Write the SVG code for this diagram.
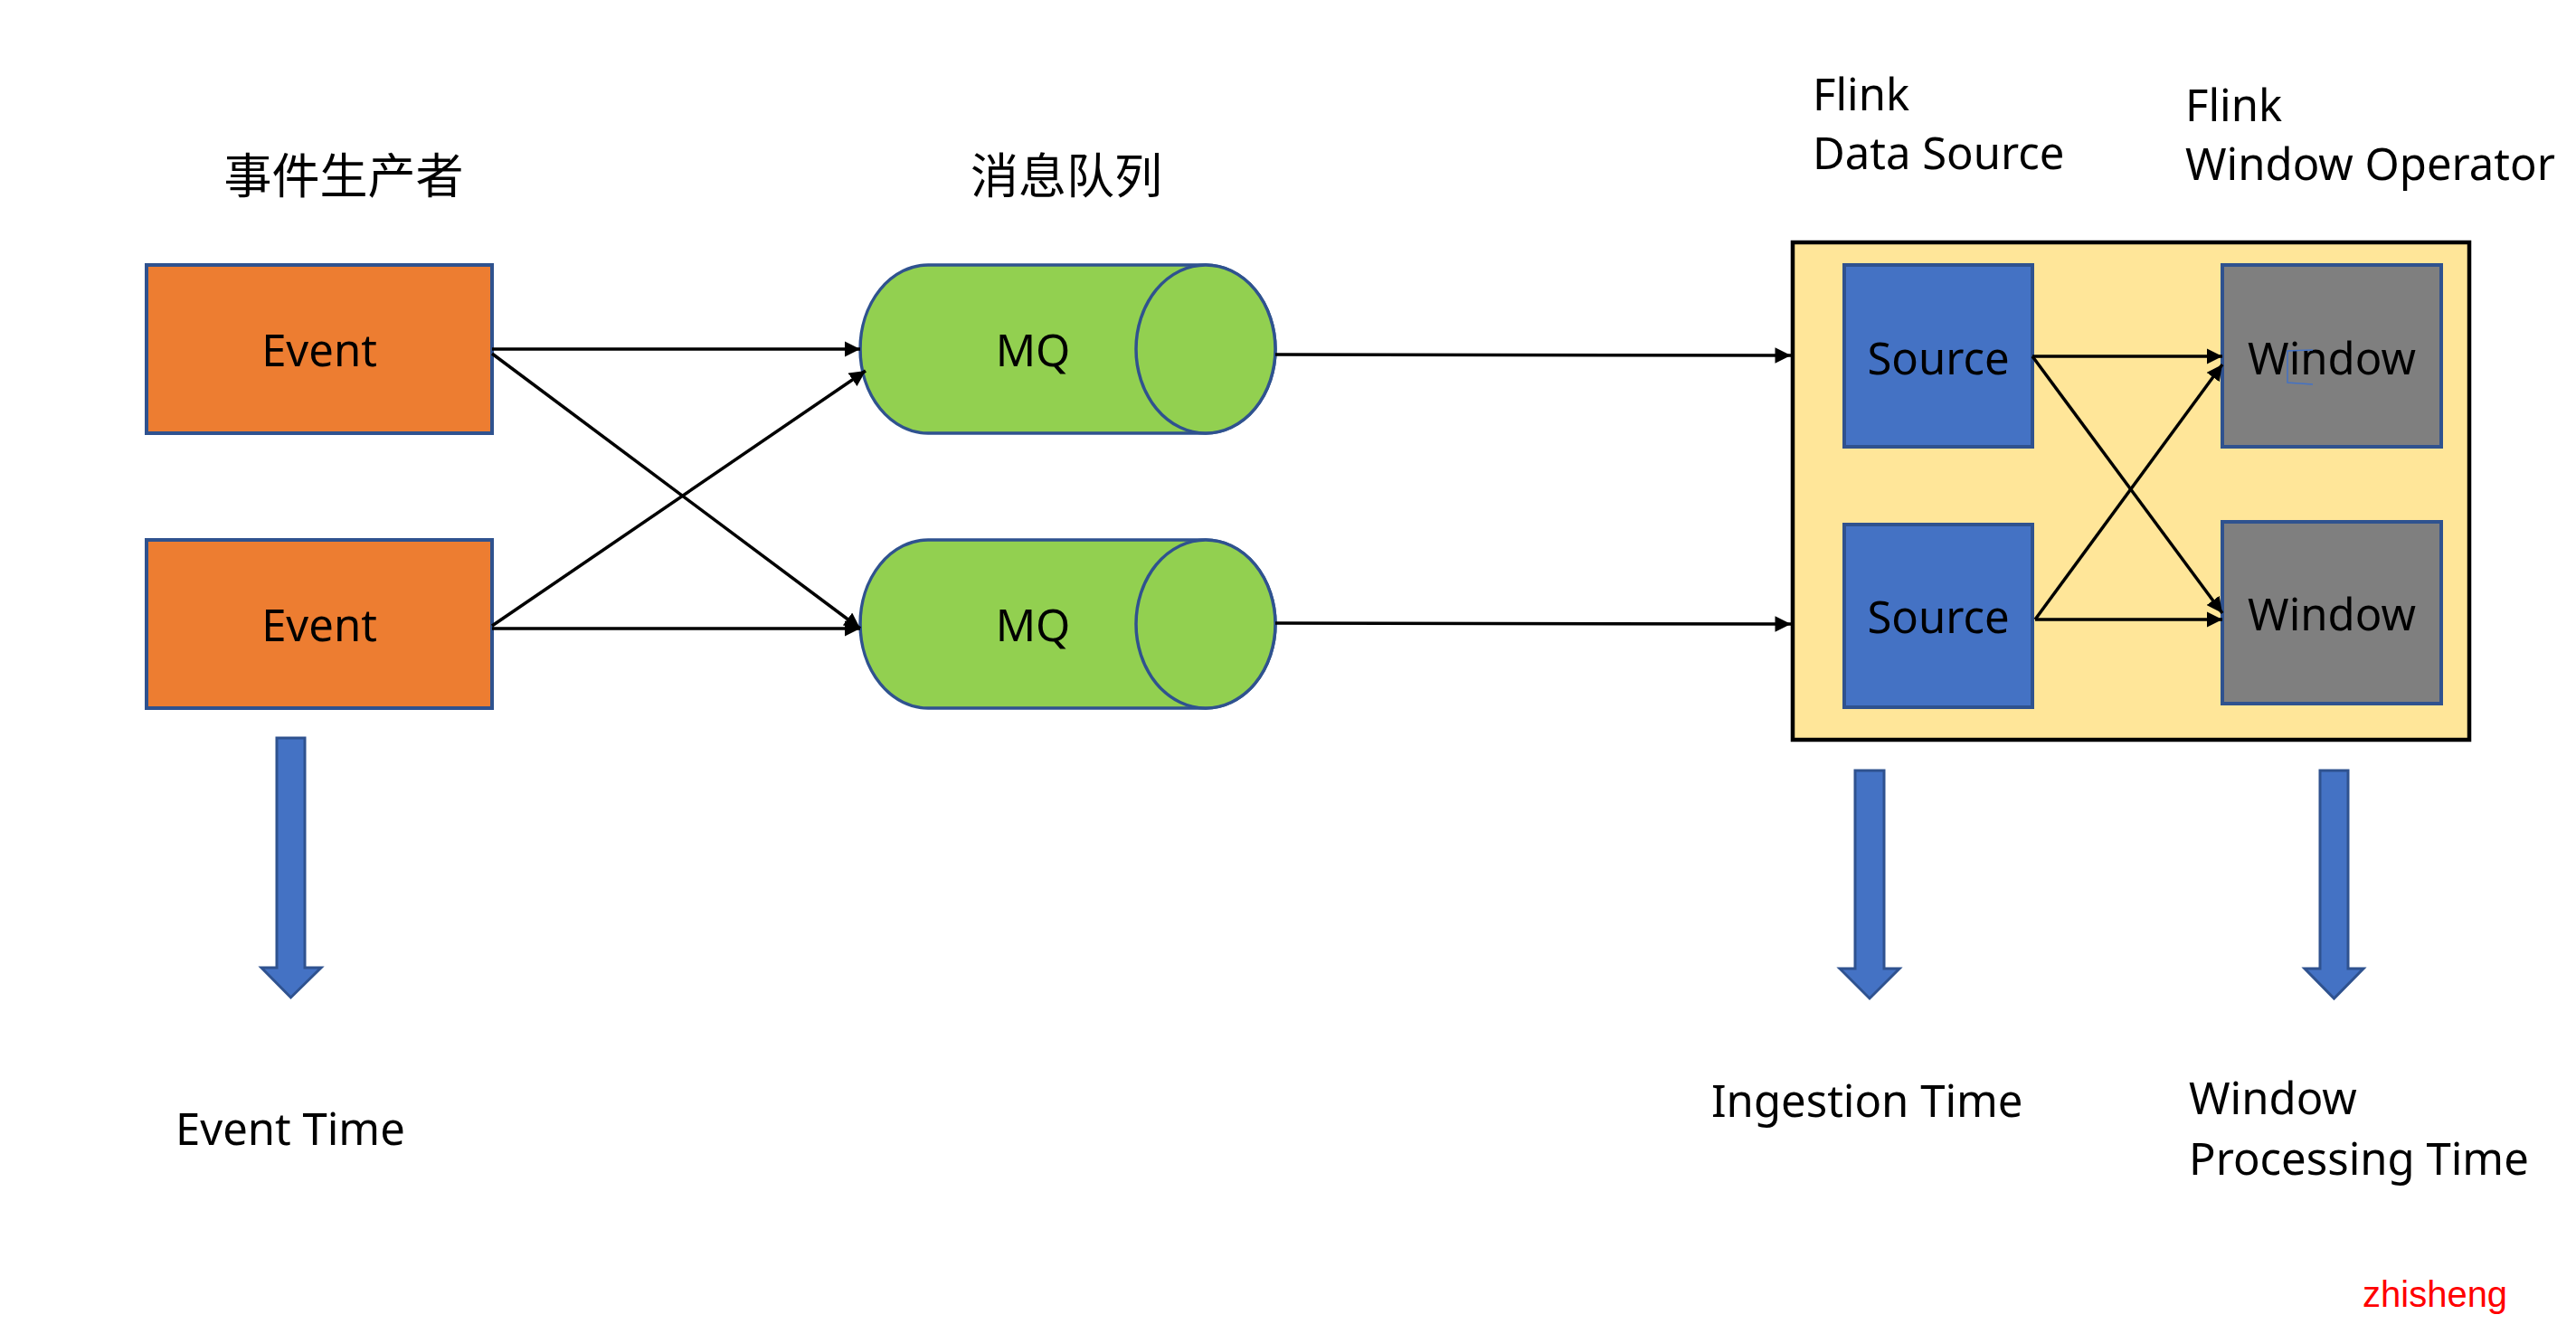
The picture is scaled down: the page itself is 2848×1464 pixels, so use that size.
<svg xmlns="http://www.w3.org/2000/svg" width="2848" height="1464" viewBox="0 0 2848 1464">
<defs>
<style>
.t{font-family:"Noto Sans","Liberation Sans",sans-serif;font-size:49px;fill:#000}
.cjk{font-family:"Noto Sans CJK SC","Noto Sans",sans-serif;font-size:53px;fill:#000}
.ev{fill:#ED7D31;stroke:#2F528F;stroke-width:4}
.mq{fill:#92D050;stroke:#2F528F;stroke-width:3.5}
.src{fill:#4472C4;stroke:#2F528F;stroke-width:4}
.win{fill:#7F7F7F;stroke:#2F528F;stroke-width:4}
.c{fill:none;stroke:#000;stroke-width:3.5;marker-end:url(#ah)}
.ba{fill:#4472C4;stroke:#2F528F;stroke-width:3}
</style>
<marker id="ah" viewBox="0 0 10 10" refX="10" refY="5" markerWidth="5" markerHeight="5" markerUnits="strokeWidth" orient="auto">
<path d="M0,0 L10,5 L0,10 z" fill="#000"/>
</marker>
</defs>
<rect width="2848" height="1464" fill="#fff"/>

<text class="cjk" x="380" y="214" text-anchor="middle">事件生产者</text>
<text class="cjk" x="1179" y="214" text-anchor="middle">消息队列</text>
<text class="t" x="2004" y="122">Flink</text>
<text class="t" x="2004" y="187">Data Source</text>
<text class="t" x="2416" y="134">Flink</text>
<text class="t" x="2416" y="199">Window Operator</text>

<g id="flink">
<rect x="1982" y="268" width="748" height="550" fill="#FFE699" stroke="#000" stroke-width="4.5"/>
</g>

<g id="event1">
<rect class="ev" x="162" y="293" width="382" height="186"/>
<text class="t" x="353" y="405" text-anchor="middle">Event</text>
</g>
<g id="event2">
<rect class="ev" x="162" y="597" width="382" height="186"/>
<text class="t" x="353" y="709" text-anchor="middle">Event</text>
</g>

<g id="mq1">
<path class="mq" d="M1026,293 L1333,293 A77,93 0 0 1 1333,479 L1026,479 A75,93 0 0 1 1026,293 Z"/>
<ellipse class="mq" cx="1333" cy="386" rx="77" ry="93"/>
<text class="t" x="1142" y="405" text-anchor="middle">MQ</text>
</g>
<g id="mq2">
<path class="mq" d="M1026,597 L1333,597 A77,93 0 0 1 1333,783 L1026,783 A75,93 0 0 1 1026,597 Z"/>
<ellipse class="mq" cx="1333" cy="690" rx="77" ry="93"/>
<text class="t" x="1142" y="709" text-anchor="middle">MQ</text>
</g>

<g id="source1">
<rect class="src" x="2039" y="293" width="208" height="201"/>
<text class="t" x="2143" y="414" text-anchor="middle">Source</text>
</g>
<g id="source2">
<rect class="src" x="2039" y="580" width="208" height="202"/>
<text class="t" x="2143" y="700" text-anchor="middle">Source</text>
</g>
<g id="window1">
<rect class="win" x="2457" y="293" width="242" height="201"/>
<text class="t" x="2578" y="414" text-anchor="middle">Window</text>
<path d="M2557,387 L2529,388 L2529,423 L2557,425" fill="none" stroke="#4472C4" stroke-width="1.5"/>
</g>
<g id="window2">
<rect class="win" x="2457" y="577" width="242" height="201"/>
<text class="t" x="2578" y="697" text-anchor="middle">Window</text>
</g>

<g id="connectors">
<line class="c" x1="544" y1="386" x2="951" y2="386"/>
<line class="c" x1="544" y1="391" x2="951" y2="695"/>
<line class="c" x1="544" y1="692" x2="957" y2="410"/>
<line class="c" x1="544" y1="695" x2="951" y2="695"/>
<line class="c" x1="1410" y1="392" x2="1980" y2="393"/>
<line class="c" x1="1410" y1="689" x2="1980" y2="690"/>
<line class="c" x1="2247" y1="394" x2="2457" y2="394"/>
<line class="c" x1="2247" y1="394" x2="2457" y2="678"/>
<line class="c" x1="2250" y1="685" x2="2457" y2="403"/>
<line class="c" x1="2250" y1="685" x2="2457" y2="685"/>
</g>

<g id="arrow-event-time">
<path class="ba" d="M306,816 L337,816 L337,1070 L355,1070 L321.5,1103 L289,1070 L306,1070 Z"/>
</g>
<g id="arrow-ingestion-time">
<path class="ba" d="M2051,852 L2083,852 L2083,1071 L2100,1071 L2067,1104 L2034,1071 L2051,1071 Z"/>
</g>
<g id="arrow-processing-time">
<path class="ba" d="M2565,852 L2596,852 L2596,1071 L2613,1071 L2580.5,1104 L2548,1071 L2565,1071 Z"/>
</g>

<text class="t" x="194" y="1266">Event Time</text>
<text class="t" x="1892" y="1235">Ingestion Time</text>
<text class="t" x="2420" y="1232">Window</text>
<text class="t" x="2420" y="1299">Processing Time</text>
<text x="2612" y="1445" font-family="Liberation Sans,Arial,sans-serif" font-size="40" fill="#FF0000">zhisheng</text>
</svg>
